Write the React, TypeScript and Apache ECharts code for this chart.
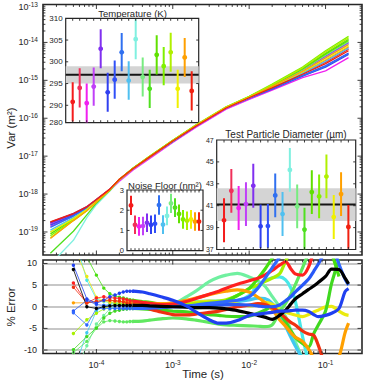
import React, { useEffect, useRef } from 'react';
import * as echarts from 'echarts';

const FONT = '"Liberation Sans", Arial, Helvetica, sans-serif';
const INK = '#262626';

// ---- colours of the 18 runs ----
const RUN_COLORS = [
  '#f41c1c', '#f0305a', '#f020f0', '#c040f8', '#8030f0', '#3040f0',
  '#3050f8', '#3070f0', '#50c0f0', '#80f0e0', '#78ec80', '#50e020',
  '#60e000', '#80f000', '#b0f000', '#f0f000', '#ffa000', '#f02010',
];

// ---- main panel: Var(t), log10 of Var (m^2) at these times (s) ----
const VAR_TIMES = [2.5e-5, 5e-5, 7.5e-5, 1e-4, 1.5e-4, 2e-4, 3e-4, 5e-4, 1e-3, 2e-3, 5e-3, 1e-2, 2e-2, 5e-2, 0.1, 0.2];
const VAR_RUN_01 = [-18.73, -18.51, -18.33, -18.14, -17.87, -17.61, -17.33, -17.02, -16.60, -16.21, -15.73, -15.46, -15.19, -14.82, -14.52, -14.18];
const VAR_RUN_02 = [-18.80, -18.55, -18.36, -18.16, -17.88, -17.62, -17.33, -17.02, -16.60, -16.20, -15.72, -15.45, -15.18, -14.79, -14.47, -14.12];
const VAR_RUN_03 = [-18.85, -18.58, -18.38, -18.18, -17.91, -17.66, -17.37, -17.06, -16.64, -16.24, -15.76, -15.50, -15.26, -14.93, -14.75, -14.40];
const VAR_RUN_04 = [-18.78, -18.54, -18.36, -18.16, -17.88, -17.62, -17.33, -17.02, -16.60, -16.20, -15.72, -15.44, -15.15, -14.75, -14.39, -14.03];
const VAR_RUN_05 = [-18.76, -18.53, -18.35, -18.15, -17.88, -17.62, -17.33, -17.02, -16.60, -16.20, -15.72, -15.44, -15.15, -14.73, -14.36, -14.00];
const VAR_RUN_06 = [-18.75, -18.52, -18.34, -18.15, -17.88, -17.62, -17.33, -17.02, -16.61, -16.21, -15.73, -15.47, -15.23, -14.89, -14.65, -14.32];
const VAR_RUN_07 = [-18.82, -18.56, -18.37, -18.17, -17.88, -17.62, -17.33, -17.02, -16.61, -16.21, -15.73, -15.47, -15.21, -14.87, -14.61, -14.28];
const VAR_RUN_08 = [-18.88, -18.58, -18.38, -18.18, -17.89, -17.62, -17.33, -17.02, -16.61, -16.21, -15.73, -15.47, -15.22, -14.88, -14.63, -14.30];
const VAR_RUN_09 = [-18.95, -18.62, -18.40, -18.19, -17.89, -17.62, -17.33, -17.02, -16.60, -16.20, -15.72, -15.46, -15.18, -14.81, -14.50, -14.15];
const VAR_RUN_10 = [-19.85, -19.22, -18.62, -18.28, -17.92, -17.63, -17.33, -17.02, -16.60, -16.20, -15.72, -15.45, -15.16, -14.76, -14.41, -14.05];
const VAR_RUN_11 = [-19.00, -18.64, -18.41, -18.19, -17.89, -17.62, -17.33, -17.01, -16.59, -16.19, -15.71, -15.44, -15.14, -14.72, -14.34, -13.98];
const VAR_RUN_12 = [-19.56, -18.98, -18.55, -18.24, -17.90, -17.62, -17.32, -17.01, -16.59, -16.19, -15.71, -15.43, -15.13, -14.69, -14.29, -13.92];
const VAR_RUN_13 = [-19.05, -18.66, -18.42, -18.20, -17.89, -17.62, -17.32, -17.01, -16.59, -16.19, -15.71, -15.44, -15.13, -14.70, -14.31, -13.95];
const VAR_RUN_14 = [-19.10, -18.68, -18.43, -18.20, -17.89, -17.61, -17.32, -17.00, -16.58, -16.18, -15.70, -15.42, -15.10, -14.65, -14.22, -13.84];
const VAR_RUN_15 = [-19.15, -18.70, -18.44, -18.21, -17.89, -17.61, -17.32, -17.00, -16.58, -16.18, -15.70, -15.43, -15.12, -14.67, -14.25, -13.88];
const VAR_RUN_16 = [-19.00, -18.65, -18.41, -18.19, -17.88, -17.62, -17.33, -17.02, -16.60, -16.20, -15.72, -15.45, -15.17, -14.78, -14.45, -14.10];
const VAR_RUN_17 = [-19.17, -18.70, -18.44, -18.21, -17.89, -17.62, -17.33, -17.02, -16.60, -16.20, -15.72, -15.45, -15.16, -14.76, -14.41, -14.06];
const VAR_RUN_18 = [-18.74, -18.52, -18.34, -18.15, -17.87, -17.61, -17.33, -17.02, -16.60, -16.21, -15.73, -15.46, -15.20, -14.84, -14.56, -14.22];
const VAR_RUNS = [VAR_RUN_01, VAR_RUN_02, VAR_RUN_03, VAR_RUN_04, VAR_RUN_05, VAR_RUN_06, VAR_RUN_07, VAR_RUN_08, VAR_RUN_09,
  VAR_RUN_10, VAR_RUN_11, VAR_RUN_12, VAR_RUN_13, VAR_RUN_14, VAR_RUN_15, VAR_RUN_16, VAR_RUN_17, VAR_RUN_18];

// ---- % error panel ----
const ERR_TIMES_EARLY = [5e-5, 7.5e-5, 1e-4, 1.25e-4, 1.5e-4, 1.75e-4, 2e-4, 2.25e-4, 2.5e-4, 2.75e-4];
const ERR_TIMES_LATE = [3e-4, 4e-4, 5e-4, 7e-4, 1e-3, 1.5e-3, 2e-3, 3e-3, 4e-3, 5e-3, 7e-3, 1e-2, 1.3e-2, 1.6e-2, 2e-2,
  2.5e-2, 3e-2, 3.5e-2, 4e-2, 5e-2, 6e-2, 7e-2, 8e-2, 0.1, 0.12, 0.15, 0.18, 0.2];

const ERR_PALEGREEN_EARLY = [-16, -9.0, -4.0, -2.0, -0.5, 0.2, 0.4, 0.4, 0.3, 0.2];
const ERR_PALEGREEN_LATE = [0.1, 0.0, -0.2, -0.3, 0.5, 2.3, 3.6, 5.8, 6.8, 7.3, 7.7, 6.9, 6.0, 4.8, 2.4, 0.0, -2.3, -5.4, -8.0, -12, null, null, null, null, null, null, null, null];
const ERR_CYAN_EARLY = [17, 6.1, 1.8, 1.2, 1.0, 0.9, 0.9, 0.8, 0.8, 0.8];
const ERR_CYAN_LATE = [0.8, 0.7, 0.6, 0.6, 0.8, 1.0, 1.2, 1.3, 1.3, 1.4, 1.5, 2.6, 5.0, 6.0, 6.7, 6.9, 6.2, 4.4, 1.5, -6.9, -13, null, null, null, null, null, null, null];
const ERR_LIGHTBLUE_EARLY = [-15, -6.0, -1.0, 0.3, 0.6, 0.7, 0.7, 0.6, 0.6, 0.6];
const ERR_LIGHTBLUE_LATE = [0.6, 0.5, 0.4, 0.3, 0.3, 0.4, 0.5, 0.7, 0.9, 1.0, 1.2, 1.6, 2.0, 1.9, 0.8, -1.9, -4.5, -7.0, -9.0, -12, null, null, null, null, null, null, null, null];
const ERR_YELLOW_EARLY = [14, 7.0, 2.2, 1.4, 1.0, 0.9, 0.8, 0.8, 0.7, 0.7];
const ERR_YELLOW_LATE = [0.7, 0.6, 0.5, 0.5, 0.6, 0.8, 1.0, 1.3, 1.2, 1.0, 0.6, 0.2, 0.5, 1.0, 0.6, -0.5, -1.2, -1.6, -1.9, -2.3, -1.8, -1.2, -0.8, 0.0, 0.1, -1.0, -1.8, -2.0];
const ERR_LIME_EARLY = [-6.2, -3.0, -1.5, -0.5, 0.2, 0.5, 0.6, 0.6, 0.6, 0.6];
const ERR_LIME_LATE = [0.6, 0.5, 0.4, 0.3, 0.4, 0.6, 0.8, 1.0, 1.3, 1.6, 2.6, 4.2, 5.0, 5.8, 6.6, 7.6, 10.6, 13, null, null, null, null, null, null, null, null, null, null];
const ERR_GREEN1_EARLY = [14, 11.5, 7.3, 4.3, 3.0, 2.5, 2.2, 2.0, 1.8, 1.6];
const ERR_GREEN1_LATE = [1.5, 1.2, 1.0, 0.6, 0.3, 0.0, -0.2, 0.0, 0.6, 1.3, 2.6, 4.2, 6.5, 8.6, 11.2, 14, null, null, null, null, null, null, null, null, 12.5, 7.0, null, null];
const ERR_GREEN2_EARLY = [-10.6, -8.0, -5.0, -3.5, -3.2, -3.3, -3.4, -3.5, -3.5, -3.4];
const ERR_GREEN2_LATE = [-3.4, -3.3, -3.1, -2.8, -2.6, -2.8, -3.1, -3.6, -4.0, -4.2, -4.3, -4.4, -4.5, -4.6, -4.2, -1.2, 0.8, 2.8, 5.0, 9.0, 12.5, null, null, null, null, null, null, null];
const ERR_GREEN3_EARLY = [-9.9, -6.9, -4.9, -2.6, -1.5, -1.0, -0.8, -0.6, -0.5, -0.4];
const ERR_GREEN3_LATE = [-0.4, -0.5, -0.6, -0.8, -1.0, -1.2, -1.5, -1.8, -2.0, -2.2, -2.3, -2.2, -1.5, -0.8, 0.0, -1.5, -3.5, -5.5, -7.0, -8.5, -9.3, -6.2, -4.3, -1.0, 5.4, 11, null, null];
const ERR_ORANGE_EARLY = [0.9, 0.9, 1.2, 1.5, 1.4, 1.3, 1.2, 1.2, 1.1, 1.0];
const ERR_ORANGE_LATE = [1.0, 0.9, 0.8, 0.7, 0.9, 1.5, 2.0, 2.8, 3.3, 3.6, 3.9, 3.4, 2.2, 1.0, -0.6, -3.0, -4.5, -6.0, -7.0, -8.0, -9.8, -12, -15, -15, -14, -11.5, -6.0, -3.8];
const ERR_RED1_EARLY = [5.5, 0.9, 2.0, 2.3, 2.1, 2.0, 1.9, 1.8, 1.6, 1.4];
const ERR_RED1_LATE = [1.3, 1.0, 0.8, 0.5, 0.6, 1.2, 1.9, 2.9, 3.6, 4.3, 5.2, 6.0, 6.6, 7.3, 8.4, 9.6, 10.4, 8.8, 7.6, 7.3, 9.2, 13, null, null, null, null, null, null];
const ERR_RED2_EARLY = [4.5, 0.9, 1.2, 1.5, 1.5, 1.4, 1.3, 1.1, 0.9, 0.7];
const ERR_RED2_LATE = [0.5, 0.0, -0.5, -1.2, -1.8, -1.9, -1.7, -1.3, -1.0, -0.6, 0.0, 0.4, 0.7, 0.5, -0.2, -1.3, -2.6, -3.6, -4.2, -5.6, -6.3, -6.6, -8.8, -14, null, null, null, null];
const ERR_BLUE3_EARLY = [-1.0, 1.5, 0.5, 0.3, 0.2, 0.2, 0.2, 0.2, 0.2, 0.2];
const ERR_BLUE3_LATE = [0.2, 0.2, 0.1, 0.0, 0.0, 0.1, 0.2, 0.3, 0.4, 0.5, 0.5, 0.4, 0.2, 0.0, 0.0, 0.4, 1.4, 2.3, 3.4, 5.0, 6.4, 8.2, 9.8, 13, null, null, null, null];
const ERR_BLUE2_EARLY = [-1.4, -4.2, -0.4, -0.4, -0.4, -0.4, -0.4, -0.4, -0.4, -0.4];
const ERR_BLUE2_LATE = [-0.4, -0.4, -0.3, -0.2, 0.0, 0.2, 0.4, 0.8, 1.0, 1.2, 1.5, 2.3, 4.3, 6.5, 9.0, 11.5, 14, null, null, null, null, null, null, null, 15, 9.8, 6.4, 5.0];
const ERR_BLACK_EARLY = [8.6, 0.0, -0.4, 0.0, 0.2, 0.3, 0.3, 0.3, 0.3, 0.3];
const ERR_BLACK_LATE = [0.3, 0.3, 0.2, 0.1, 0.0, -0.1, -0.2, -0.2, -0.3, -0.5, -0.9, -1.5, -2.0, -2.4, -2.9, -2.0, -0.8, 0.6, 1.8, 3.0, 4.0, 4.8, 5.6, 7.0, 8.7, 8.6, 6.6, 5.3];
const ERR_BLUE1_EARLY = [9.6, 1.8, 0.8, 1.5, 2.3, 2.7, 3.1, 3.4, 3.6, 3.6];
const ERR_BLUE1_LATE = [3.6, 3.4, 3.0, 2.3, 1.5, 0.2, -1.2, -3.0, -3.8, -3.8, -3.2, -2.0, -1.7, -1.5, -1.3, -1.0, -1.0, -0.9, -0.8, -0.8, -1.1, -1.8, -2.3, -2.0, -1.5, -0.4, 3.5, 4.2];

const ERR_LINES = [
  { color: '#70f0a0', early: ERR_PALEGREEN_EARLY, late: ERR_PALEGREEN_LATE },
  { color: '#48e8e8', early: ERR_CYAN_EARLY, late: ERR_CYAN_LATE },
  { color: '#40c8f0', early: ERR_LIGHTBLUE_EARLY, late: ERR_LIGHTBLUE_LATE },
  { color: '#eaea10', early: ERR_YELLOW_EARLY, late: ERR_YELLOW_LATE },
  { color: '#a8f000', early: ERR_LIME_EARLY, late: ERR_LIME_LATE },
  { color: '#48e010', early: ERR_GREEN1_EARLY, late: ERR_GREEN1_LATE },
  { color: '#60e860', early: ERR_GREEN2_EARLY, late: ERR_GREEN2_LATE },
  { color: '#40d820', early: ERR_GREEN3_EARLY, late: ERR_GREEN3_LATE },
  { color: '#ffa000', early: ERR_ORANGE_EARLY, late: ERR_ORANGE_LATE },
  { color: '#ff2020', early: ERR_RED1_EARLY, late: ERR_RED1_LATE },
  { color: '#f03010', early: ERR_RED2_EARLY, late: ERR_RED2_LATE },
  { color: '#2858f8', early: ERR_BLUE3_EARLY, late: ERR_BLUE3_LATE },
  { color: '#3068ff', early: ERR_BLUE2_EARLY, late: ERR_BLUE2_LATE },
  { color: '#000000', early: ERR_BLACK_EARLY, late: ERR_BLACK_LATE },
  { color: '#2040f0', early: ERR_BLUE1_EARLY, late: ERR_BLUE1_LATE },
];

// ---- insets ----
const TEMP_K = [290.8, 294.0, 290.5, 294.3, 303.0, 293.0, 295.9, 302.2, 295.7, 305.2, 296.5, 293.8, 301.6, 299.0, 302.2, 293.8, 301.0, 293.3];
const TEMP_ERR = [4.5, 4.5, 4.5, 4.4, 4.5, 4.5, 4.4, 4.4, 4.4, 4.6, 4.5, 4.4, 4.5, 4.4, 4.5, 4.4, 4.5, 4.5];
const TEMP_MEAN = 297.0;
const TEMP_SD = 2.0;

const DIAM_UM = [39.67, 42.36, 40.79, 41.15, 42.82, 39.12, 39.15, 41.94, 40.24, 44.27, 40.94, 38.82, 42.24, 41.85, 43.67, 39.97, 42.06, 39.06];
const DIAM_ERR = [2.0, 2.0, 2.0, 2.0, 2.0, 2.0, 2.0, 2.0, 2.0, 2.0, 2.0, 2.0, 2.0, 2.0, 2.0, 2.0, 2.0, 2.0];
const DIAM_MEAN = 41.1;
const DIAM_SD = 1.5;

const NOISE_NM2 = [2.24, 1.28, 1.2, 1.22, 1.38, 1.28, 1.33, 2.26, 1.29, 1.72, 2.34, 2.13, 1.82, 1.55, 1.48, 1.55, 1.44, 1.44];
const NOISE_ERR = [0.48, 0.46, 0.46, 0.46, 0.46, 0.46, 0.46, 0.48, 0.46, 0.46, 0.48, 0.46, 0.46, 0.46, 0.46, 0.46, 0.46, 0.46];

// axis ranges
const T_MIN = 2e-5, T_MAX = 0.3;
const VAR_MIN = 2.47e-20, VAR_MAX = 1e-13;
const ERR_MIN = -10.8, ERR_MAX = 10.8;
const RUN_MIN = 0, RUN_MAX = 19;

function logTicks(min: number, max: number) {
  const out: number[][] = [];
  for (let d = Math.floor(Math.log10(min)); d <= Math.ceil(Math.log10(max)); d++) {
    for (let k = 1; k <= 9; k++) {
      const v = k * Math.pow(10, d);
      if (v > min * 1.0001 && v < max * 0.9999) out.push([v, k === 1 ? 0 : 1]);
    }
  }
  return out;
}

function tickSeries(gi: number, xt: number[][], yt: number[][], xRef: number, yRef: number, maj: number, min: number) {
  const data = [
    ...xt.map((t) => [t[0], yRef, 0, t[1]]),
    ...yt.map((t) => [xRef, t[0], 1, t[1]]),
  ];
  return {
    type: 'custom', xAxisIndex: gi, yAxisIndex: gi, silent: true, clip: false, z: 20,
    data, encode: { x: 0, y: 1 },
    renderItem: (params: any, api: any) => {
      const cs = params.coordSys;
      const p = api.coord([api.value(0), api.value(1)]);
      const L = api.value(3) === 1 ? min : maj;
      const st = { stroke: INK, lineWidth: 0.9 };
      if (api.value(2) === 0) {
        const b = cs.y + cs.height, t = cs.y;
        return { type: 'group', children: [
          { type: 'line', shape: { x1: p[0], y1: b, x2: p[0], y2: b - L }, style: st },
          { type: 'line', shape: { x1: p[0], y1: t, x2: p[0], y2: t + L }, style: st },
        ] };
      }
      const l = cs.x, r = cs.x + cs.width;
      return { type: 'group', children: [
        { type: 'line', shape: { x1: l, y1: p[1], x2: l + L, y2: p[1] }, style: st },
        { type: 'line', shape: { x1: r, y1: p[1], x2: r - L, y2: p[1] }, style: st },
      ] };
    },
  };
}

function errorBarSeries(gi: number, vals: number[], errs: number[]) {
  return {
    type: 'custom', xAxisIndex: gi, yAxisIndex: gi, silent: true, clip: true, z: 5,
    data: vals.map((v, i) => [i + 1, v, errs[i]]), encode: { x: 0, y: 1 },
    renderItem: (params: any, api: any) => {
      const x = api.value(0), y = api.value(1), e = api.value(2);
      const p = api.coord([x, y]);
      const lo = api.coord([x, y - e]);
      const hi = api.coord([x, y + e]);
      const c = RUN_COLORS[params.dataIndex];
      return { type: 'group', children: [
        { type: 'line', shape: { x1: p[0], y1: lo[1], x2: p[0], y2: hi[1] }, style: { stroke: c, lineWidth: 2 } },
        { type: 'circle', shape: { cx: p[0], cy: p[1], r: 2.4 }, style: { fill: c } },
      ] };
    },
  };
}

function bandSeries(gi: number, lo: number, hi: number) {
  return {
    type: 'custom', xAxisIndex: gi, yAxisIndex: gi, silent: true, clip: true, z: 3,
    data: [[RUN_MIN, lo, RUN_MAX, hi]], encode: { x: [0, 2], y: [1, 3] },
    renderItem: (params: any, api: any) => {
      const a = api.coord([api.value(0), api.value(3)]);
      const b = api.coord([api.value(2), api.value(1)]);
      return { type: 'rect', shape: { x: a[0], y: a[1], width: b[0] - a[0], height: b[1] - a[1] }, style: { fill: '#d4d4d4' } };
    },
  };
}

function meanSeries(gi: number, m: number) {
  return {
    type: 'line', xAxisIndex: gi, yAxisIndex: gi, silent: true, z: 4, symbol: 'none',
    data: [[RUN_MIN, m], [RUN_MAX, m]], lineStyle: { color: '#151515', width: 2 },
  };
}

const powFmt = (v: number) => {
  const e = Math.round(Math.log10(v));
  // the label sitting on the top edge is nudged down so it is not cut by the page edge
  return v >= VAR_MAX * 0.99 && v < VAR_MAX * 1.01 ? `{bt|10}{et|${e}}` : `{b|10}{e|${e}}`;
};
const powRich = {
  b: { fontSize: 9, fontFamily: FONT, color: INK },
  e: { fontSize: 6.5, fontFamily: FONT, color: INK, padding: [0, 0, 6, 0] },
  bt: { fontSize: 9, fontFamily: FONT, color: INK, padding: [5, 0, 0, 0] },
  et: { fontSize: 6.5, fontFamily: FONT, color: INK, padding: [0, 0, 1, 0] },
};

function gridBox(left: number, top: number, width: number, height: number, inset: boolean) {
  return {
    left, top, width, height, show: true, containLabel: false, outerBoundsMode: 'none',
    borderColor: INK, borderWidth: inset ? 1.2 : 1.6, backgroundColor: inset ? '#ffffff' : 'transparent',
  };
}

const hidden = { axisLine: { show: false }, axisTick: { show: false }, splitLine: { show: false } };

function buildOption(): any {
  const runTicks = Array.from({ length: 18 }, (_, i) => [i + 1, 0]);
  const series: any[] = [];

  VAR_RUNS.forEach((run, i) => {
    series.push({
      type: 'line', xAxisIndex: 0, yAxisIndex: 0, symbol: 'none', silent: true, z: 2,
      data: VAR_TIMES.map((t, j) => [t, Math.pow(10, run[j])]),
      lineStyle: { color: RUN_COLORS[i], width: 1.3 },
    });
  });

  ERR_LINES.forEach((s) => {
    series.push({
      type: 'line', xAxisIndex: 1, yAxisIndex: 1, silent: true, z: 2,
      symbol: 'circle', symbolSize: 3.4, showSymbol: true,
      data: ERR_TIMES_EARLY.map((t, j) => [t, s.early[j]]).concat([[ERR_TIMES_LATE[0], s.late[0] as number]]),
      lineStyle: { color: s.color, width: 0.8 }, itemStyle: { color: s.color },
    });
  });
  ERR_LINES.forEach((s) => {
    series.push({
      type: 'line', xAxisIndex: 1, yAxisIndex: 1, silent: true, z: 3, symbol: 'none', smooth: 0.3,
      data: ERR_TIMES_LATE.map((t, j) => [t, s.late[j] === null ? '-' : s.late[j]]),
      lineStyle: { color: s.color, width: 3.2 },
    });
  });

  series.push(bandSeries(2, TEMP_MEAN - TEMP_SD, TEMP_MEAN + TEMP_SD));
  series.push(meanSeries(2, TEMP_MEAN));
  series.push(errorBarSeries(2, TEMP_K, TEMP_ERR));
  series.push(bandSeries(3, DIAM_MEAN - DIAM_SD, DIAM_MEAN + DIAM_SD));
  series.push(meanSeries(3, DIAM_MEAN));
  series.push(errorBarSeries(3, DIAM_UM, DIAM_ERR));
  series.push(errorBarSeries(4, NOISE_NM2, NOISE_ERR));

  const xLog = logTicks(T_MIN, T_MAX);
  series.push(tickSeries(0, xLog, logTicks(VAR_MIN, VAR_MAX), 1e-3, 1e-16, 4.5, 2.4));
  series.push(tickSeries(1, xLog, [[-10, 0], [-5, 0], [0, 0], [5, 0], [10, 0]], 1e-3, 0, 4.5, 2.4));
  series.push(tickSeries(2, runTicks, [[290, 0], [295, 0], [300, 0], [305, 0]], 9, 300, 2.5, 2));
  series.push(tickSeries(3, runTicks, [[39, 0], [41, 0], [43, 0], [45, 0]], 9, 41, 2.5, 2));
  series.push(tickSeries(4, runTicks, [[1, 0], [2, 0]], 9, 1.5, 2.5, 2));

  const txt = (text: string, x: number, y: number, size: number, rot = 0) => ({
    type: 'text', x, y, rotation: rot, z: 50, silent: true,
    style: { text, fill: INK, fontSize: size, fontFamily: FONT, textAlign: 'center', textVerticalAlign: 'middle', align: 'center', verticalAlign: 'middle' },
  });

  return {
    animation: false,
    backgroundColor: '#ffffff',
    textStyle: { fontFamily: FONT },
    grid: [
      gridBox(43, 4.5, 319, 250.5, false),
      gridBox(43, 260, 319, 93.5, false),
      gridBox(65.7, 18.3, 133, 104.4, true),
      gridBox(216.7, 140, 139, 109.5, true),
      gridBox(127, 190, 76, 60.7, true),
    ],
    xAxis: [
      { gridIndex: 0, type: 'log', logBase: 10, min: T_MIN, max: T_MAX, ...hidden, axisLabel: { show: false } },
      { gridIndex: 1, type: 'log', logBase: 10, min: T_MIN, max: T_MAX, ...hidden,
        axisLabel: { show: true, formatter: powFmt, rich: powRich, margin: 5, showMinLabel: false, showMaxLabel: false } },
      { gridIndex: 2, type: 'value', min: RUN_MIN, max: RUN_MAX, ...hidden, axisLabel: { show: false } },
      { gridIndex: 3, type: 'value', min: RUN_MIN, max: RUN_MAX, ...hidden, axisLabel: { show: false } },
      { gridIndex: 4, type: 'value', min: RUN_MIN, max: RUN_MAX, ...hidden, axisLabel: { show: false } },
    ],
    yAxis: [
      { gridIndex: 0, type: 'log', logBase: 10, min: VAR_MIN, max: VAR_MAX, ...hidden,
        axisLabel: { show: true, formatter: powFmt, rich: powRich, margin: 5, showMinLabel: false } },
      { gridIndex: 1, type: 'value', min: ERR_MIN, max: ERR_MAX, axisLine: { show: false }, axisTick: { show: false },
        splitLine: { show: true, showMinLine: false, showMaxLine: false, lineStyle: { color: '#b4b4b4', width: 1.6 } },
        axisLabel: { show: true, fontSize: 9, color: INK, fontFamily: FONT, margin: 6, showMinLabel: false, showMaxLabel: false } },
      { gridIndex: 2, type: 'value', min: 286, max: 310, ...hidden,
        axisLabel: { show: true, fontSize: 8, color: INK, fontFamily: FONT, margin: 3,
          formatter: (v: number) => (v < 288 ? '280' : String(v)) } },
      { gridIndex: 3, type: 'value', min: 37, max: 47, interval: 2, ...hidden,
        axisLabel: { show: true, fontSize: 7, color: INK, fontFamily: FONT, margin: 3 } },
      { gridIndex: 4, type: 'value', min: 0, max: 3, interval: 1, ...hidden,
        axisLabel: { show: true, fontSize: 7.5, color: INK, fontFamily: FONT, margin: 3 } },
    ],
    series,
    graphic: [
      txt('Var (m²)', 11, 128, 11.5, Math.PI / 2),
      txt('% Error', 11, 307, 11.5, Math.PI / 2),
      txt('Time (s)', 203, 374, 11.5),
      txt('Temperature (K)', 132.5, 13, 9.5),
      txt('Noise Floor (nm²)', 165, 185.5, 9.5),
      txt('Test Particle Diameter (µm)', 286, 134.5, 10),
    ],
  };
}

export default function App() {
  const ref = useRef<HTMLDivElement>(null);
  useEffect(() => {
    const chart = echarts.init(ref.current as HTMLDivElement, null, { renderer: 'svg' });
    chart.setOption(buildOption());
    return () => chart.dispose();
  }, []);
  return (
    <div
      ref={ref}
      style={{ position: 'fixed', left: 0, top: 0, width: 384, height: 381, background: '#ffffff' }}
    />
  );
}
